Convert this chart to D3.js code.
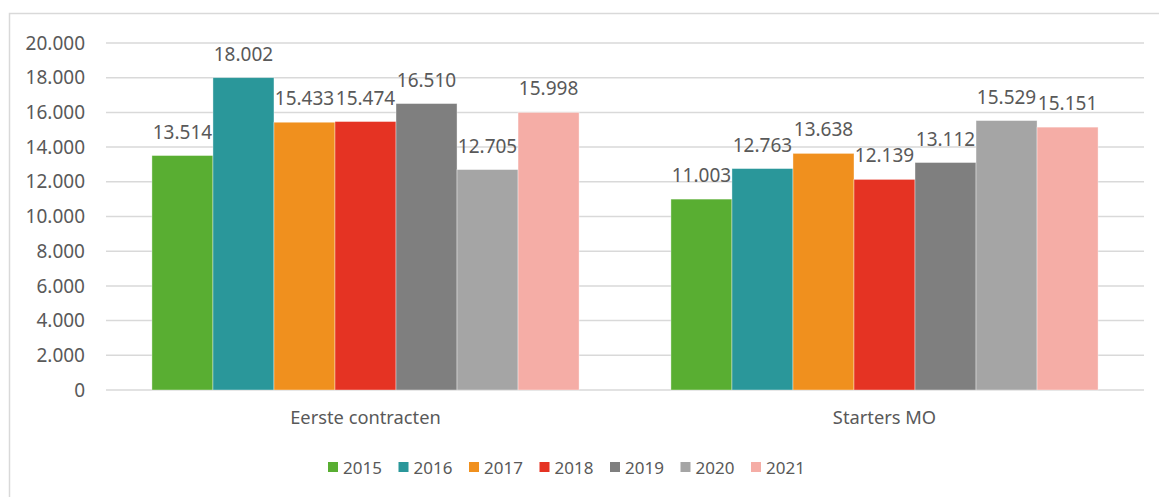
<!DOCTYPE html>
<html>
<head>
<meta charset="utf-8">
<script src="https://cdn.jsdelivr.net/npm/d3@7.9.0/dist/d3.min.js"></script>
<style>
  body { margin: 0; background: #fff; }
  svg text { font-family: "Noto Sans", sans-serif; fill: #595959; }
</style>
</head>
<body>
<svg id="chart" width="1159" height="497"></svg>
<script>
// data
const categories = ['Eerste contracten', 'Starters MO'];
const years = ['2015', '2016', '2017', '2018', '2019', '2020', '2021'];
const values2015 = [13514, 11003];
const values2016 = [18002, 12763];
const values2017 = [15433, 13638];
const values2018 = [15474, 12139];
const values2019 = [16510, 13112];
const values2020 = [12705, 15529];
const values2021 = [15998, 15151];
const yTicks = [0, 2000, 4000, 6000, 8000, 10000, 12000, 14000, 16000, 18000, 20000];
const colors = ['#59ae32', '#2a979a', '#f0901e', '#e53323', '#7f7f7f', '#a5a5a5', '#f5ada6'];

const series = [values2015, values2016, values2017, values2018, values2019, values2020, values2021];

const svg = d3.select('#chart');
const fmt = v => d3.format(',')(v).replace(/,/g, '.');

// outer frame
svg.append('rect')
    .attr('x', 9.5).attr('y', 13.5)
    .attr('width', 1200).attr('height', 600)
    .attr('fill', 'none')
    .attr('stroke', '#d9d9d9')
    .attr('stroke-width', 1.5);

const plot = { left: 106, right: 1144, top: 43, bottom: 390 };

const y = d3.scaleLinear().domain([0, 20000]).range([plot.bottom, plot.top]);
const x0 = d3.scaleBand().domain(categories)
    .range([plot.left, plot.right])
    .paddingInner(0.177).paddingOuter(0.0885);
const x1 = d3.scaleBand().domain(years).range([0, x0.bandwidth()]);

// gridlines
svg.append('g')
    .selectAll('line')
    .data(yTicks)
    .join('line')
    .attr('x1', plot.left).attr('x2', plot.right)
    .attr('y1', d => y(d)).attr('y2', d => y(d))
    .attr('stroke', '#d9d9d9')
    .attr('stroke-width', 1.5);

// y tick labels
svg.append('g')
    .selectAll('text')
    .data(yTicks)
    .join('text')
    .attr('x', 85)
    .attr('y', d => y(d))
    .attr('dy', '0.35em')
    .attr('text-anchor', 'end')
    .attr('font-size', 19)
    .text(d => d === 0 ? '0' : fmt(d));

// bars
const groups = svg.append('g')
    .selectAll('g')
    .data(categories)
    .join('g')
    .attr('transform', d => `translate(${x0(d)},0)`);

groups.selectAll('rect')
    .data((c, ci) => years.map((yr, i) => ({ yr, i, v: series[i][ci] })))
    .join('rect')
    .attr('x', d => x1(d.yr))
    .attr('y', d => y(d.v))
    .attr('width', x1.bandwidth())
    .attr('height', d => y(0) - y(d.v))
    .attr('fill', d => colors[d.i])
    .attr('stroke', '#fff')
    .attr('stroke-opacity', 0.5)
    .attr('stroke-width', 0.75);

groups.selectAll('text')
    .data((c, ci) => years.map((yr, i) => ({ yr, i, v: series[i][ci] })))
    .join('text')
    .attr('x', d => x1(d.yr) + x1.bandwidth() / 2)
    .attr('y', d => y(d.v) - 17)
    .attr('text-anchor', 'middle')
    .attr('font-size', 19)
    .text(d => fmt(d.v));

// category labels
svg.append('g')
    .selectAll('text')
    .data(categories)
    .join('text')
    .attr('x', d => x0(d) + x0.bandwidth() / 2)
    .attr('y', 424)
    .attr('text-anchor', 'middle')
    .attr('font-size', 18.3)
    .text(d => d);

// legend
const legend = svg.append('g')
    .selectAll('g')
    .data(years)
    .join('g')
    .attr('transform', (d, i) => `translate(${328 + i * 70.5},462)`);

legend.append('rect')
    .attr('width', 10).attr('height', 10)
    .attr('fill', (d, i) => colors[i]);

legend.append('text')
    .attr('x', 15).attr('y', 11.5)
    .attr('font-size', 17)
    .text(d => d);
</script>
</body>
</html>
